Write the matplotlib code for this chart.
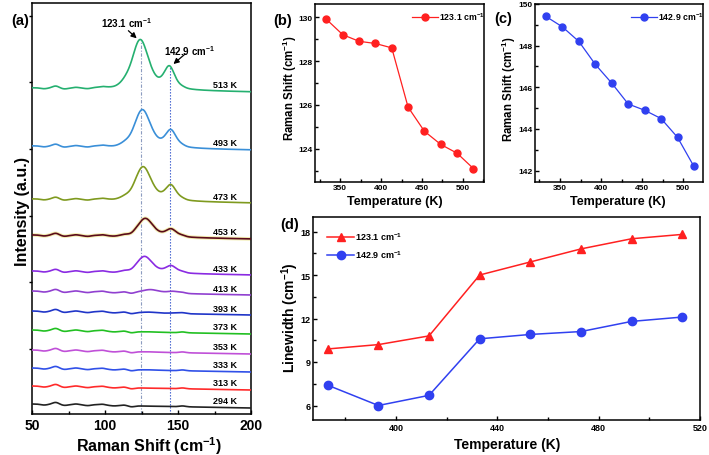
import numpy as np
import matplotlib
matplotlib.use('Agg')
import matplotlib.pyplot as plt
from matplotlib.ticker import MultipleLocator, NullFormatter

plt.rcParams.update({
    'font.family': ['Liberation Sans', 'DejaVu Sans'],
    'font.weight': 'bold',
    'mathtext.fontset': 'custom',
    'mathtext.rm': 'Liberation Sans:bold',
    'mathtext.it': 'Liberation Sans:bold',
    'mathtext.bf': 'Liberation Sans:bold',
    'mathtext.default': 'bf',
    'axes.linewidth': 1.1,
    'xtick.direction': 'in',
    'ytick.direction': 'in',
})

W, H = 709, 456

# ---------------- data: panel (a) spectra (peak parameters) ----
spec_temps = [294, 313, 333, 353, 373, 393, 413, 433, 453, 473, 493, 513]
spec_colors = ['#222222', '#ff2a2a', '#3050e8', '#c050d8', '#22c022', '#2035c8',
               '#9040d0', '#8a2be2', '#5a0a1a', '#7f9a1f', '#3a8fd8', '#25b070']
spec_offset = [10, 28, 46, 64, 84, 103, 123, 143, 179, 215, 268, 326]
p1_center = [130, 130, 130, 130, 130, 130, 131, 127, 127.5, 126, 125.5, 124]
p1_height = [0, 0, 0.3, 0.3, 0.3, 1.0, 3.5, 16.5, 18.5, 34, 38, 50]
p1_hwhm = [6.5, 6.5, 6.5, 6.5, 6.5, 6.5, 7, 6.5, 6.5, 6.8, 6.8, 7]
p2_center = [147, 147, 147, 147, 147, 148, 146.5, 145.2, 145.2, 145, 145, 144]
p2_height = [0, 0, 0, 0, 0, 0.6, 2.0, 7.1, 7.7, 15, 17, 22]
p2_hwhm = [4.5, 4.5, 4.5, 4.5, 4.5, 4.5, 4.5, 4.5, 4.5, 4.5, 4.5, 4.5]
ripple_center = [58, 66, 72, 80, 88, 93, 98, 106, 113, 118, 153]
ripple_height = [-0.8, 2.0, -0.8, 0.8, -0.6, 0.4, 1.0, -0.4, 0.6, -1.0, 0.8]
baseline_drop = 4.0
mode1_line = 124.5
mode2_line = 144.3

# ---------------- data: panels (b), (c), (d) ----------------
temps_bc = [333, 353, 373, 393, 413, 433, 453, 473, 493, 513]
shift_123 = [129.9, 129.2, 128.9, 128.8, 128.6, 125.9, 124.8, 124.2, 123.8, 123.1]
shift_143 = [149.4, 148.9, 148.2, 147.1, 146.2, 145.2, 144.9, 144.5, 143.6, 142.2]
temps_d = [373, 393, 413, 433, 453, 473, 493, 513]
width_123 = [9.9, 10.2, 10.8, 15.0, 15.9, 16.8, 17.5, 17.8]
width_143 = [7.4, 6.0, 6.7, 10.6, 10.9, 11.1, 11.8, 12.1]

RED = '#ff2020'
BLUE = '#3040f0'

fig = plt.figure(figsize=(W / 100, H / 100), dpi=100)


def rect(l, t, r, b):
    return [l / W, 1 - b / H, (r - l) / W, (b - t) / H]


def fx(px):
    return px / W


def fy(py):
    return 1 - py / H


axa = fig.add_axes(rect(32.3, 4, 251, 415))
axb = fig.add_axes(rect(315, 5, 484, 182.7))
axc = fig.add_axes(rect(535, 5, 703, 182.7))
axd = fig.add_axes(rect(313.3, 218, 700, 421))

# ---------------- panel (a) ----------------
x = np.linspace(50, 200, 751)


def pvoigt(xx, c, h, g, eta=0.5):
    d = (xx - c) / g
    return h * (eta / (1 + d ** 2) + (1 - eta) * np.exp(-np.log(2) * d ** 2))


top_curve = None
for i, T in enumerate(spec_temps):
    y = spec_offset[i] - baseline_drop * (x - 50) / 150
    y = y + pvoigt(x, p1_center[i], p1_height[i], p1_hwhm[i])
    y = y + pvoigt(x, p2_center[i], p2_height[i], p2_hwhm[i])
    for c, h in zip(ripple_center, ripple_height):
        y = y + h * np.exp(-0.5 * ((x - c) / 2.2) ** 2)
    if T == 453:
        axa.plot(x, y, color='#f3eeb0', lw=2.6, zorder=2)
    axa.plot(x, y, color=spec_colors[i], lw=1.2, zorder=3)
    axa.text(190.5, spec_offset[i] + 3, f'{T} K', ha='right', va='center',
             fontsize=6.5, fontweight='bold')
    if T == 513:
        top_curve = y

y1 = np.interp(mode1_line, x, top_curve)
y2 = np.interp(mode2_line, x, top_curve)
axa.plot([mode1_line, mode1_line], [0, y1], color='#8c9cc0', lw=0.8,
         ls=(0, (3, 1.5, 1, 1.5)), zorder=1)
axa.plot([mode2_line, mode2_line], [0, y2], color='#3355cc', lw=0.8,
         ls=(0, (1.2, 1.5)), zorder=1)

axa.text(114.6, 392, '123.1 cm$^{-1}$', ha='center', va='center', fontsize=7)
axa.annotate('', xy=(121.6, 375.7), xytext=(115.9, 383.3),
             arrowprops=dict(arrowstyle='-|>', color='k', lw=0.9, mutation_scale=8,
                             shrinkA=0, shrinkB=0))
axa.text(157.9, 364, '142.9 cm$^{-1}$', ha='center', va='center', fontsize=7)
axa.annotate('', xy=(146.8, 350), xytext=(154.8, 360),
             arrowprops=dict(arrowstyle='-|>', color='k', lw=0.9, mutation_scale=8,
                             shrinkA=0, shrinkB=0))

axa.set_xlim(50, 200)
axa.set_ylim(0, 411)
axa.xaxis.set_major_locator(MultipleLocator(50))
axa.xaxis.set_minor_locator(MultipleLocator(25))
axa.set_yticks([65, 131.7, 198.3, 265, 331.7, 398.3])
axa.yaxis.set_major_formatter(NullFormatter())
axa.tick_params(axis='y', direction='out', length=2, width=1)
axa.tick_params(axis='x', which='major', length=3, width=1, labelsize=10, pad=3)
axa.tick_params(axis='x', which='minor', length=2, width=1)
axa.set_xlabel('Raman Shift (cm$^{-1}$)', fontsize=11.5, fontweight='bold')
axa.xaxis.set_label_coords(fx(149), fy(446), transform=fig.transFigure)
axa.xaxis.label.set_va('center')
axa.set_ylabel('Intensity (a.u.)', fontsize=11.5, fontweight='bold')
axa.yaxis.set_label_coords(fx(22.5), fy(212), transform=fig.transFigure)
axa.yaxis.label.set_va('center')

# ---------------- panel (b) ----------------
axb.plot(temps_bc, shift_123, '-o', color=RED, ms=5, lw=0.9, label='123.1 cm$^{-1}$')
axb.set_xlim(319, 526)
axb.set_ylim(122.5, 130.6)
axb.xaxis.set_major_locator(MultipleLocator(50))
axb.xaxis.set_minor_locator(MultipleLocator(25))
axb.yaxis.set_major_locator(MultipleLocator(2))
axb.yaxis.set_minor_locator(MultipleLocator(1))

# ---------------- panel (c) ----------------
axc.plot(temps_bc, shift_143, '-o', color=BLUE, ms=5, lw=0.9, label='142.9 cm$^{-1}$')
axc.set_xlim(319.6, 524)
axc.set_ylim(141.47, 150)
axc.xaxis.set_major_locator(MultipleLocator(50))
axc.xaxis.set_minor_locator(MultipleLocator(25))
axc.yaxis.set_major_locator(MultipleLocator(2))
axc.yaxis.set_minor_locator(MultipleLocator(1))

for ax, xl, yl in [(axb, (395, 201.7), (289.5, 88)), (axc, (617.5, 201.7), (508.5, 89))]:
    ax.tick_params(which='major', length=3, width=1, labelsize=6, pad=2)
    ax.tick_params(which='minor', length=2, width=1)
    ax.set_xlabel('Temperature (K)', fontsize=9, fontweight='bold')
    ax.xaxis.set_label_coords(fx(xl[0]), fy(xl[1]), transform=fig.transFigure)
    ax.xaxis.label.set_va('center')
    ax.set_ylabel('Raman Shift (cm$^{-1}$)', fontsize=8.3, fontweight='bold')
    ax.yaxis.set_label_coords(fx(yl[0]), fy(yl[1]), transform=fig.transFigure)
    ax.yaxis.label.set_va('center')

axb.legend(loc='upper right', bbox_to_anchor=(fx(485), fy(11)), bbox_transform=fig.transFigure,
           frameon=False, fontsize=6.3, handlelength=3, handletextpad=0.1,
           borderpad=0, borderaxespad=0, numpoints=1)
axc.legend(loc='upper right', bbox_to_anchor=(fx(704), fy(11)), bbox_transform=fig.transFigure,
           frameon=False, fontsize=6.3, handlelength=3, handletextpad=0.1,
           borderpad=0, borderaxespad=0, numpoints=1)

# ---------------- panel (d) ----------------
axd.plot(temps_d, width_123, '-^', color=RED, ms=6, lw=1.1, label='123.1 cm$^{-1}$')
axd.plot(temps_d, width_143, '-o', color=BLUE, ms=6, lw=1.1, label='142.9 cm$^{-1}$')
axd.set_xlim(367.3, 520)
axd.set_ylim(5, 19)
axd.xaxis.set_major_locator(MultipleLocator(40))
axd.xaxis.set_minor_locator(MultipleLocator(20))
axd.yaxis.set_major_locator(MultipleLocator(3))
axd.yaxis.set_minor_locator(MultipleLocator(1.5))
axd.tick_params(which='major', length=3, width=1, labelsize=6.5, pad=2)
axd.tick_params(which='minor', length=2, width=1)
axd.set_xlabel('Temperature (K)', fontsize=10, fontweight='bold')
axd.xaxis.set_label_coords(fx(506.7), fy(445), transform=fig.transFigure)
axd.xaxis.label.set_va('center')
axd.set_ylabel('Linewidth (cm$^{-1}$)', fontsize=10, fontweight='bold')
axd.yaxis.set_label_coords(fx(290), fy(318), transform=fig.transFigure)
axd.yaxis.label.set_va('center')
axd.legend(loc='upper left', bbox_to_anchor=(fx(327), fy(231)), bbox_transform=fig.transFigure,
           frameon=False, fontsize=6.5, handlelength=3, handletextpad=0.1,
           labelspacing=0.75, borderpad=0, borderaxespad=0, numpoints=1)

for a in (axa, axb, axc, axd):
    for lab in a.get_xticklabels() + a.get_yticklabels():
        lab.set_fontweight('bold')

# panel labels
fig.text(fx(20), fy(21), '(a)', fontsize=10.5, fontweight='bold', ha='center', va='center')
fig.text(fx(282.5), fy(21), '(b)', fontsize=10.5, fontweight='bold', ha='center', va='center')
fig.text(fx(503.5), fy(19), '(c)', fontsize=10.5, fontweight='bold', ha='center', va='center')
fig.text(fx(289.5), fy(225), '(d)', fontsize=10.5, fontweight='bold', ha='center', va='center')

fig.savefig('out.png', dpi=100)
